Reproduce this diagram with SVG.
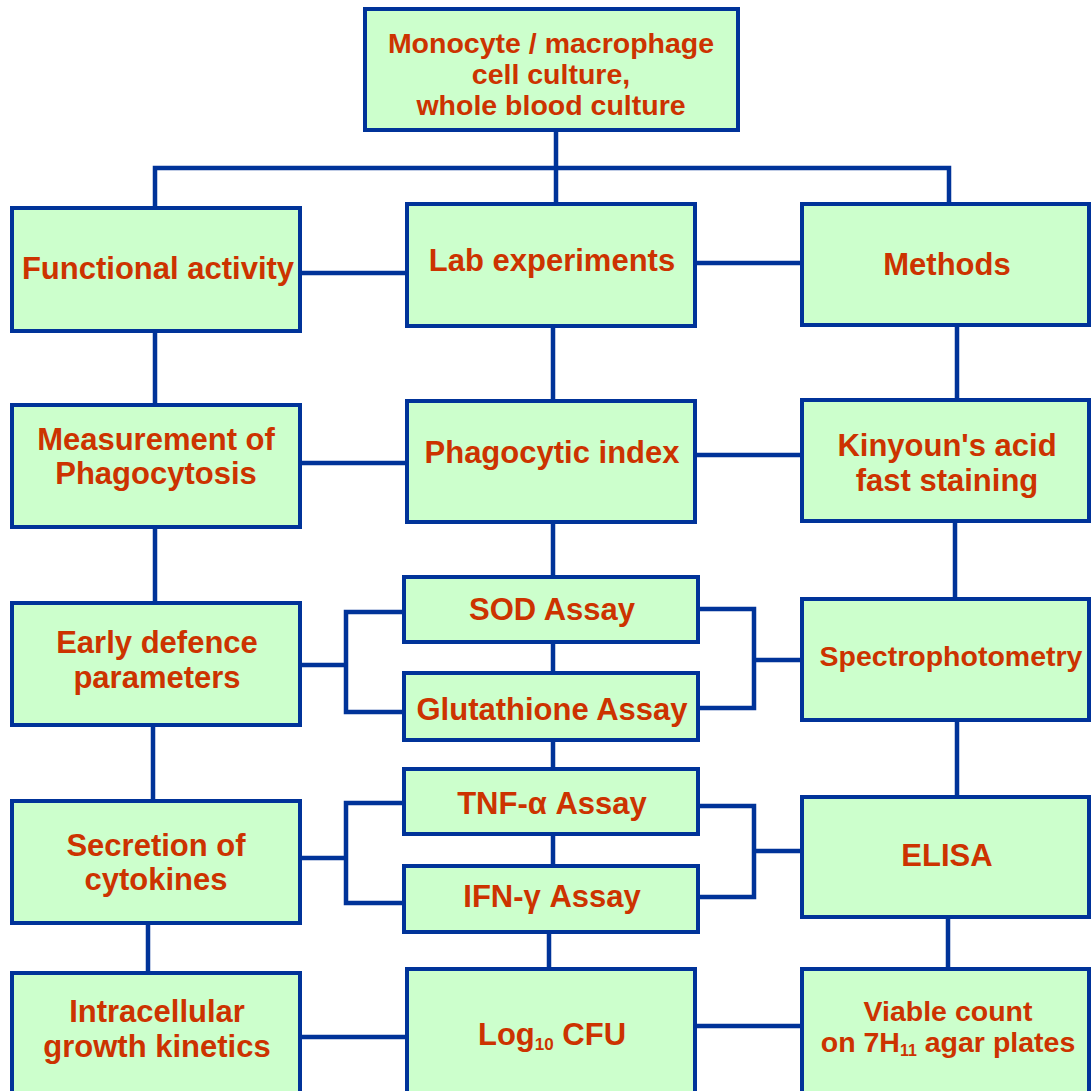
<svg xmlns="http://www.w3.org/2000/svg" width="1091" height="1091" viewBox="0 0 1091 1091">
<style>
.box{fill:#ccffcc;stroke:#003399;stroke-width:4}
.t{font-family:"Liberation Sans",Arial,sans-serif;font-weight:bold;font-size:31px;fill:#cc3300;text-anchor:middle}
.s{font-size:28.5px}
.c{fill:none;stroke:#003399;stroke-width:4.5}
</style>
<rect width="1091" height="1091" fill="#ffffff"/>
<g id="connectors">
<path class="c" d="M556 131V203M155 208V168H949V203"/>
<path class="c" d="M301 273H406M696 263H801"/>
<path class="c" d="M155 332V404M553 327V400M957 326V399"/>
<path class="c" d="M301 463H406M696 455H801"/>
<path class="c" d="M155 528V602M553 523V576M955 522V598"/>
<path class="c" d="M301 665H346M403 612H346V712H403M699 609H754V708H699M754 660H801M553 643V672"/>
<path class="c" d="M553 741V768M153 726V800M957 721V796"/>
<path class="c" d="M301 858H346M403 803H346V903H403M699 806H754V897H699M754 851H801M553 835V865"/>
<path class="c" d="M549 933V968M148 924V972M948 918V968"/>
<path class="c" d="M301 1037H406M696 1026H801"/>
</g>
<g id="top"><rect class="box" x="365" y="9" width="373" height="121"/>
<text class="t s" x="551" y="53">Monocyte / macrophage</text>
<text class="t s" x="551" y="84">cell culture,</text>
<text class="t s" x="551" y="115">whole blood culture</text></g>
<g id="functional"><rect class="box" x="12" y="208" width="288" height="123"/><text class="t" x="158" y="279">Functional activity</text></g>
<g id="lab"><rect class="box" x="407" y="204" width="288" height="122"/><text class="t" x="552" y="271">Lab experiments</text></g>
<g id="methods"><rect class="box" x="802" y="204" width="287" height="121"/><text class="t" x="947" y="275">Methods</text></g>
<g id="measurement"><rect class="box" x="12" y="405" width="288" height="122"/><text class="t" x="156" y="450">Measurement of</text><text class="t" x="156" y="484">Phagocytosis</text></g>
<g id="phagocytic"><rect class="box" x="407" y="401" width="288" height="121"/><text class="t" x="552" y="463">Phagocytic index</text></g>
<g id="kinyoun"><rect class="box" x="802" y="400" width="287" height="121"/><text class="t" x="947" y="456">Kinyoun's acid</text><text class="t" x="947" y="491">fast staining</text></g>
<g id="early"><rect class="box" x="12" y="603" width="288" height="122"/><text class="t" x="157" y="653">Early defence</text><text class="t" x="157" y="688">parameters</text></g>
<g id="sod"><rect class="box" x="404" y="577" width="294" height="65"/><text class="t" x="552" y="620">SOD Assay</text></g>
<g id="glutathione"><rect class="box" x="404" y="673" width="294" height="67"/><text class="t" x="552" y="720">Glutathione Assay</text></g>
<g id="spectro"><rect class="box" x="802" y="599" width="287" height="121"/><text class="t s" x="951" y="666">Spectrophotometry</text></g>
<g id="secretion"><rect class="box" x="12" y="801" width="288" height="122"/><text class="t" x="156" y="856">Secretion of</text><text class="t" x="156" y="890">cytokines</text></g>
<g id="tnf"><rect class="box" x="404" y="769" width="294" height="65"/><text class="t" x="552" y="814">TNF-α Assay</text></g>
<g id="ifn"><rect class="box" x="404" y="866" width="294" height="66"/><text class="t" x="552" y="907">IFN-γ Assay</text></g>
<g id="elisa"><rect class="box" x="802" y="797" width="287" height="120"/><text class="t" x="947" y="866">ELISA</text></g>
<g id="intracellular"><rect class="box" x="12" y="973" width="288" height="120"/><text class="t" x="157" y="1022">Intracellular</text><text class="t" x="157" y="1057">growth kinetics</text></g>
<g id="log"><rect class="box" x="407" y="969" width="288" height="124"/><text class="t" x="552" y="1045">Log<tspan font-size="17" dy="5">10</tspan><tspan dy="-5"> CFU</tspan></text></g>
<g id="viable"><rect class="box" x="802" y="969" width="287" height="124"/><text class="t s" x="948" y="1021">Viable count</text><text class="t s" x="948" y="1052">on 7H<tspan font-size="16" dy="4">11</tspan><tspan dy="-4"> agar plates</tspan></text></g>
</svg>
